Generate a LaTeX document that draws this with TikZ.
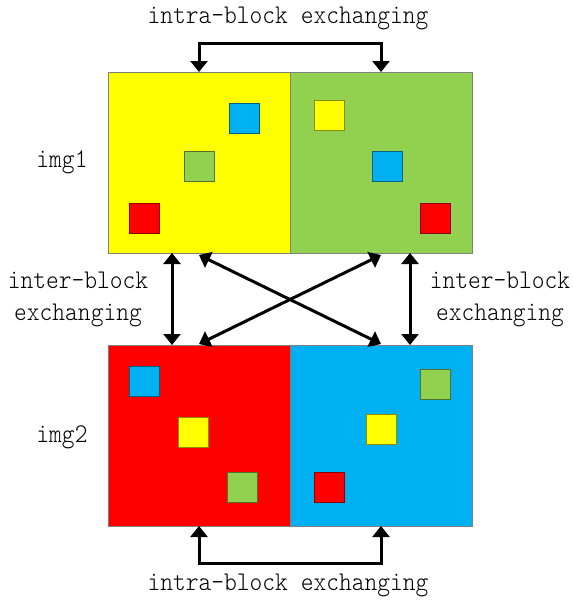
\documentclass[tikz,border=0pt]{standalone}
\usepackage{fontspec}
\newfontfamily\lblfont{lmmonolt10-regular.otf}[FakeStretch=0.9]
\usetikzlibrary{arrows.meta}
\definecolor{cyel}{HTML}{FFFF00}
\definecolor{cgrn}{HTML}{92D050}
\definecolor{cblu}{HTML}{00B0F0}
\definecolor{cred}{HTML}{FF0000}
\tikzset{
 blockbox/.style={draw=black!50, line width=1pt, minimum width=182pt, minimum height=181pt, inner sep=0pt, outer sep=0pt},
 sq/.style={fill=#1, draw=#1!55!black, line width=0.8pt, minimum size=30pt, inner sep=0pt},
 arr/.style={line width=3pt, {Triangle[width=17pt,length=11pt]}-{Triangle[width=17pt,length=11pt]}},
 lbl/.style={font=\lblfont\fontsize{27}{32}\selectfont, align=center, inner sep=0pt},
}
\begin{document}
\begin{tikzpicture}[x=1pt,y=-1pt]
\useasboundingbox (0,0) rectangle (573,603);
% blocks
\node[blockbox, fill=cyel] (tl) at (199,162.5) {};
\node[blockbox, fill=cgrn] (tr) at (381,162.5) {};
\node[blockbox, fill=cred] (bl) at (199,435.5) {};
\node[blockbox, fill=cblu] (br) at (381,435.5) {};
% squares top-left
\node[sq=cblu] (s1) at (244.5,118) {};
\node[sq=cgrn] (s2) at (199,166) {};
\node[sq=cred] (s3) at (144.5,218) {};
% squares top-right
\node[sq=cyel] (s4) at (329.5,115) {};
\node[sq=cblu] (s5) at (387,166) {};
\node[sq=cred] (s6) at (435.5,218) {};
% squares bottom-left
\node[sq=cblu] (s7) at (144.5,381) {};
\node[sq=cyel] (s8) at (193,432) {};
\node[sq=cgrn] (s9) at (242,487) {};
% squares bottom-right
\node[sq=cgrn] (s10) at (435.5,384) {};
\node[sq=cyel] (s11) at (381,429) {};
\node[sq=cred] (s12) at (329.5,487) {};
% labels
\node[lbl] (t1) at (288,18) {intra-block exchanging};
\node[lbl] (t2) at (288,585) {intra-block exchanging};
\node[lbl] (t3) at (78,299) {inter-block\\exchanging};
\node[lbl] (t4) at (500,299) {inter-block\\exchanging};
\node[lbl] (img1) at (62,162) {img1};
\node[lbl] (img2) at (62,437) {img2};
% arrows
\draw[arr] (tl.north) -- ++(0,-29) -| (tr.north);
\draw[arr] (bl.south) -- ++(0,37) -| (br.south);
\draw[arr] ([xshift=-27pt]tl.south) -- ([xshift=-27pt]bl.north);
\draw[arr] ([xshift=29pt]tr.south) -- ([xshift=29pt]br.north);
\draw[arr] ([yshift=-2pt]tl.south) -- ([yshift=1pt]br.north);
\draw[arr] ([yshift=-2pt]tr.south) -- ([yshift=1pt]bl.north);
\end{tikzpicture}
\end{document}
